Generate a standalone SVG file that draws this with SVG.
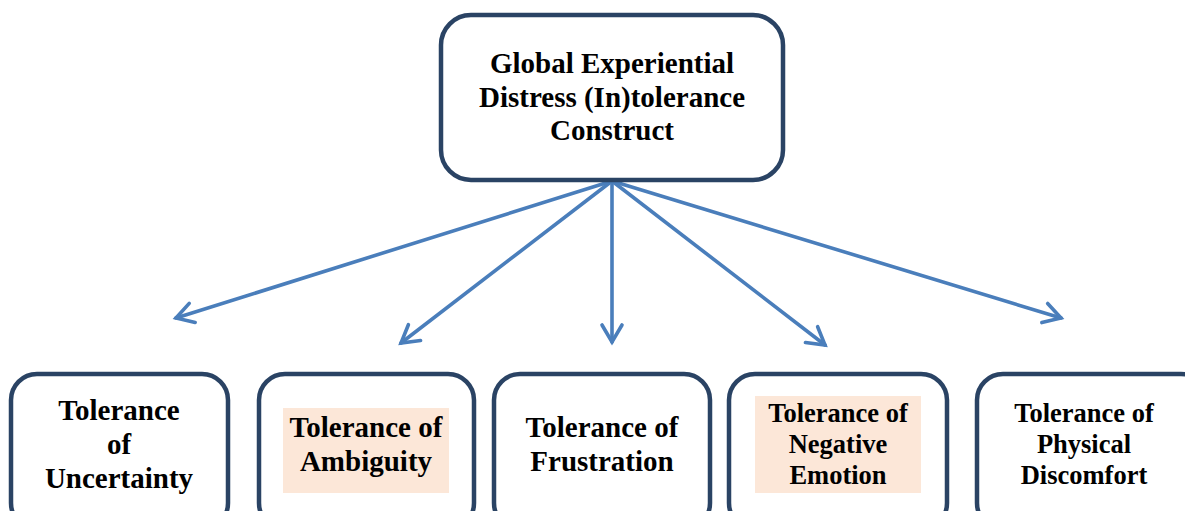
<svg xmlns="http://www.w3.org/2000/svg" width="1185" height="511" viewBox="0 0 1185 511">
  <defs>
    <style>
      .box { fill: #ffffff; stroke: #2a4364; stroke-width: 4.5; }
      .hl { fill: #fce7d8; }
      .lbl { font-family: "Liberation Serif", "Times New Roman", serif; font-weight: bold; fill: #000000; text-anchor: middle; }
      .big { font-size: 29px; }
      .small { font-size: 26.5px; }
      .conn { stroke: #4a7ebb; stroke-width: 3.6; fill: none; stroke-linecap: round; marker-end: url(#open); }
    </style>
    <!-- open V-shaped arrowhead, drawn in user units along the line direction -->
    <marker id="open" viewBox="-4 -4 30 30" refX="18" refY="10" markerWidth="30" markerHeight="30" markerUnits="userSpaceOnUse" orient="auto" overflow="visible">
      <path d="M1,0 L18,10 L1,20" fill="none" stroke="#4a7ebb" stroke-width="3.6" stroke-linecap="round" stroke-linejoin="miter"/>
    </marker>
  </defs>

  <g id="connectors">
    <line class="conn" x1="612" y1="181" x2="176" y2="318"/>
    <line class="conn" x1="612" y1="181" x2="401" y2="343"/>
    <line class="conn" x1="612" y1="181" x2="612" y2="342"/>
    <line class="conn" x1="612" y1="181" x2="825" y2="345"/>
    <line class="conn" x1="612" y1="181" x2="1061" y2="318"/>
  </g>

  <g id="global">
    <rect class="box" x="441" y="15" width="342" height="165" rx="30"/>
    <text class="lbl big" x="612" y="73">Global Experiential</text>
    <text class="lbl big" x="612" y="107">Distress (In)tolerance</text>
    <text class="lbl big" x="612" y="140">Construct</text>
  </g>

  <g id="uncertainty">
    <rect class="box" x="11" y="374" width="217" height="155" rx="26"/>
    <text class="lbl big" x="119" y="420">Tolerance</text>
    <text class="lbl big" x="119" y="454">of</text>
    <text class="lbl big" x="119" y="488">Uncertainty</text>
  </g>

  <g id="ambiguity">
    <rect class="box" x="259" y="374" width="215" height="155" rx="26"/>
    <rect class="hl" x="283" y="408" width="166" height="85"/>
    <text class="lbl big" x="366" y="437">Tolerance of</text>
    <text class="lbl big" x="366" y="471">Ambiguity</text>
  </g>

  <g id="frustration">
    <rect class="box" x="494" y="374" width="216" height="155" rx="26"/>
    <text class="lbl big" x="602" y="437">Tolerance of</text>
    <text class="lbl big" x="602" y="471">Frustration</text>
  </g>

  <g id="negative-emotion">
    <rect class="box" x="729" y="374" width="218" height="155" rx="26"/>
    <rect class="hl" x="755" y="396" width="166" height="97"/>
    <text class="lbl small" x="838" y="422">Tolerance of</text>
    <text class="lbl small" x="838" y="453">Negative</text>
    <text class="lbl small" x="838" y="484">Emotion</text>
  </g>

  <g id="physical-discomfort">
    <rect class="box" x="977" y="374" width="230" height="155" rx="26"/>
    <text class="lbl small" x="1084" y="422">Tolerance of</text>
    <text class="lbl small" x="1084" y="453">Physical</text>
    <text class="lbl small" x="1084" y="484">Discomfort</text>
  </g>
</svg>
